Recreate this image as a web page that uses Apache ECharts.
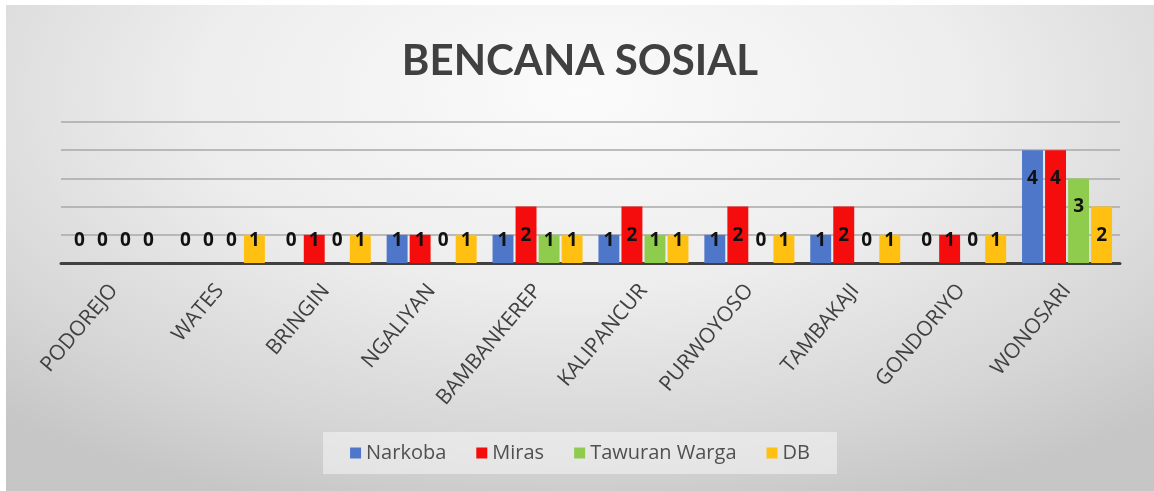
<!DOCTYPE html>
<html>
<head>
<meta charset="utf-8">
<script src="https://cdn.jsdelivr.net/npm/echarts@6/dist/echarts.min.js"></script>
<style>
  html,body{margin:0;padding:0;background:#fff;}
  #chart{position:absolute;left:6px;top:5px;width:1148px;height:486px;
    background:radial-gradient(ellipse 75% 90% at 50% 18%, #fbfbfb 0%, #ededed 45%, #d6d6d6 80%, #c6c6c6 100%);}
</style>
</head>
<body>
<div id="chart"></div>
<script>
// data
const categories = ['PODOREJO','WATES','BRINGIN','NGALIYAN','BAMBANKEREP','KALIPANCUR','PURWOYOSO','TAMBAKAJI','GONDORIYO','WONOSARI'];
const narkoba = [0,0,0,1,1,1,1,1,0,4];
const miras   = [0,0,1,1,2,2,2,2,1,4];
const tawuran = [0,0,0,0,1,1,0,0,0,3];
const db      = [0,1,1,1,1,1,1,1,1,2];
const seriesNames = ['Narkoba','Miras','Tawuran Warga','DB'];
const colors = ['#4f77c9','#f50d0d','#8fcc4e','#ffc012'];

// label sits near the top of tall bars, short bars keep it just above the axis
function items(vals){
    return vals.map(function(v){
        return {
            value:v,
            label: v>=2 ? {position:'insideTop',distance:19} : {position:'insideBottom',distance:13}
        };
    });
}

const chart = echarts.init(document.getElementById('chart'));
const option = {
    backgroundColor:'transparent',
    color:colors,
    title:{
        text:'BENCANA SOSIAL',
        left:'center',
        top:30,
        textStyle:{fontFamily:'Lato',fontWeight:'bold',fontSize:42,color:'#404040'}
    },
    grid:{left:55,right:34,top:117,bottom:228},
    legend:{
        bottom:17,
        left:'center',
        itemWidth:11,
        itemHeight:11,
        itemGap:30,
        icon:'rect',
        padding:[11,27],
        backgroundColor:'rgba(245,245,245,0.55)',
        textStyle:{fontFamily:'Open Sans',fontSize:20,color:'#505050'},
        data:seriesNames
    },
    xAxis:{
        type:'category',
        data:categories,
        axisLine:{lineStyle:{color:'#404040',width:3}},
        axisTick:{show:false},
        axisLabel:{rotate:50,margin:24,interval:0,fontFamily:'Open Sans',fontSize:21,color:'#404040'}
    },
    yAxis:{
        type:'value',
        min:0,max:5,interval:1,
        axisLine:{show:false},
        axisTick:{show:false},
        axisLabel:{show:false},
        splitLine:{lineStyle:{color:'#a8a8a8',width:1.5}}
    },
    series:[narkoba,miras,tawuran,db].map(function(vals,i){
        return {
            name:seriesNames[i],
            type:'bar',
            barGap:'10%',
            barCategoryGap:'15%',
            data:items(vals),
            label:{show:true,fontFamily:'Open Sans',fontWeight:'bold',fontSize:19,color:'#111'}
        };
    })
};
chart.setOption(option);
</script>
</body>
</html>
